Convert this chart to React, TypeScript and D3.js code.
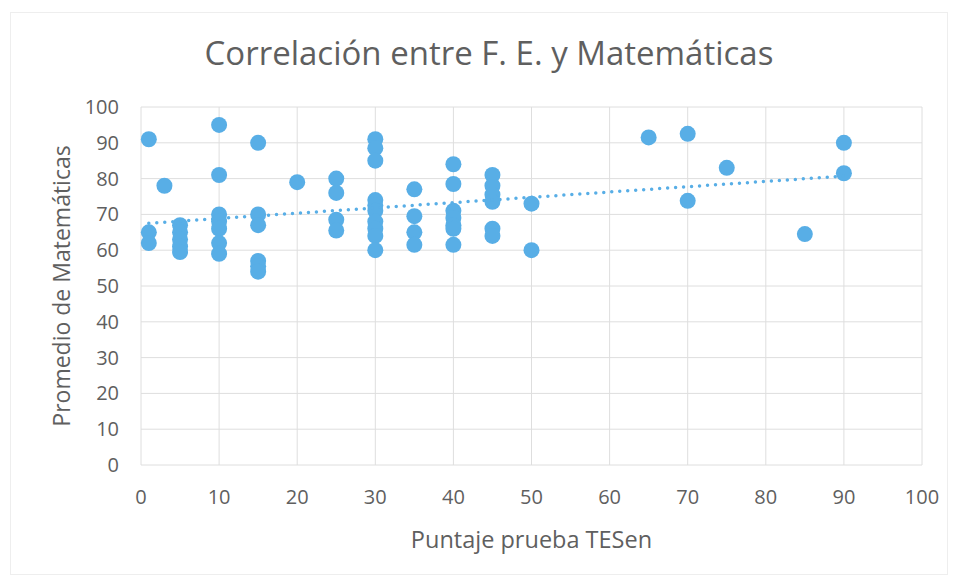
import React from "react";
import * as d3 from "d3";

const W = 958;
const H = 582;

const titleText = "Correlación entre F. E. y Matemáticas";
const xAxisTitle = "Puntaje prueba TESen";
const yAxisTitle = "Promedio de Matemáticas";

const xTicks = [0, 10, 20, 30, 40, 50, 60, 70, 80, 90, 100];
const yTicks = [0, 10, 20, 30, 40, 50, 60, 70, 80, 90, 100];

// TESen scores (x) and mathematics averages (y)
const xValues = [
  1, 1, 1,
  3,
  5, 5, 5, 5, 5,
  10, 10, 10, 10, 10, 10, 10,
  15, 15, 15, 15, 15, 15,
  20,
  25, 25, 25, 25,
  30, 30, 30, 30, 30, 30, 30, 30, 30, 30,
  35, 35, 35, 35,
  40, 40, 40, 40, 40, 40, 40,
  45, 45, 45, 45, 45, 45,
  50, 50,
  65,
  70, 70,
  75,
  85,
  90, 90,
];
const yValues = [
  91, 65, 62,
  78,
  67, 65, 63, 61, 59.5,
  95, 81, 70, 68, 66, 62, 59,
  90, 70, 67, 57, 55.5, 54,
  79,
  80, 76, 68.5, 65.5,
  91, 88.5, 85, 74, 72.5, 71, 68, 66, 64, 60,
  77, 69.5, 65, 61.5,
  84, 78.5, 71, 69, 67, 66, 61.5,
  81, 78, 75.5, 73.5, 66, 64,
  73, 60,
  91.5,
  92.5, 73.8,
  83,
  64.5,
  90, 81.5,
];

const plot = { left: 141, right: 922, top: 107, bottom: 465 };
const gray = "#5f5f5f";
const gridColor = "#dedede";
const markerColor = "#58aee6";
const font = "'Open Sans', Lato, sans-serif";

export default function App() {
  const x = d3.scaleLinear().domain([0, 100]).range([plot.left, plot.right]);
  const y = d3.scaleLinear().domain([0, 100]).range([plot.bottom, plot.top]);

  const points = xValues.map((v, i) => [v, yValues[i]] as [number, number]);

  // linear least squares trendline
  const mx = d3.mean(xValues) as number;
  const my = d3.mean(yValues) as number;
  let sxy = 0;
  let sxx = 0;
  points.forEach(([a, b]) => {
    sxy += (a - mx) * (b - my);
    sxx += (a - mx) * (a - mx);
  });
  const slope = sxy / sxx;
  const intercept = my - slope * mx;
  const [x0, x1] = d3.extent(xValues) as [number, number];
  const trend = d3.line<number>()
    .x((d) => x(d))
    .y((d) => y(intercept + slope * d))([x0, x1]) as string;

  return (
    <svg
      width={W}
      height={H}
      style={{ position: "absolute", left: 0, top: 0, background: "#fff" }}
      fontFamily={font}
    >
      <rect x={0} y={0} width={W} height={H} fill="#fff" />
      <rect x={10.5} y={12.5} width={937} height={562} fill="none" stroke="#eeeeee" strokeWidth={1} />
      <text x={489} y={65} textAnchor="middle" fontSize={33} fill={gray}>
        {titleText}
      </text>
      {yTicks.map((t) => (
        <line key={"gy" + t} x1={plot.left} x2={plot.right} y1={y(t)} y2={y(t)} stroke={gridColor} strokeWidth={1} />
      ))}
      {xTicks.map((t) => (
        <line key={"gx" + t} x1={x(t)} x2={x(t)} y1={plot.top} y2={plot.bottom} stroke={gridColor} strokeWidth={1} />
      ))}
      {yTicks.map((t) => (
        <text key={"ty" + t} x={plot.left - 22} y={y(t)} dy="0.35em" textAnchor="end" fontSize={20} fill={gray}>
          {t}
        </text>
      ))}
      {xTicks.map((t) => (
        <text key={"tx" + t} x={x(t)} y={plot.bottom + 39} textAnchor="middle" fontSize={20} fill={gray}>
          {t}
        </text>
      ))}
      <text x={(plot.left + plot.right) / 2} y={548} textAnchor="middle" fontSize={23.5} fill={gray}>
        {xAxisTitle}
      </text>
      <text
        transform={`translate(70, ${(plot.top + plot.bottom) / 2}) rotate(-90)`}
        textAnchor="middle"
        fontSize={23}
        fill={gray}
      >
        {yAxisTitle}
      </text>
      {points.map(([a, b], i) => (
        <circle key={i} cx={x(a)} cy={y(b)} r={8} fill={markerColor} />
      ))}
      <path d={trend} fill="none" stroke={markerColor} strokeWidth={3.5} strokeDasharray="0 8" strokeLinecap="round" />
    </svg>
  );
}
